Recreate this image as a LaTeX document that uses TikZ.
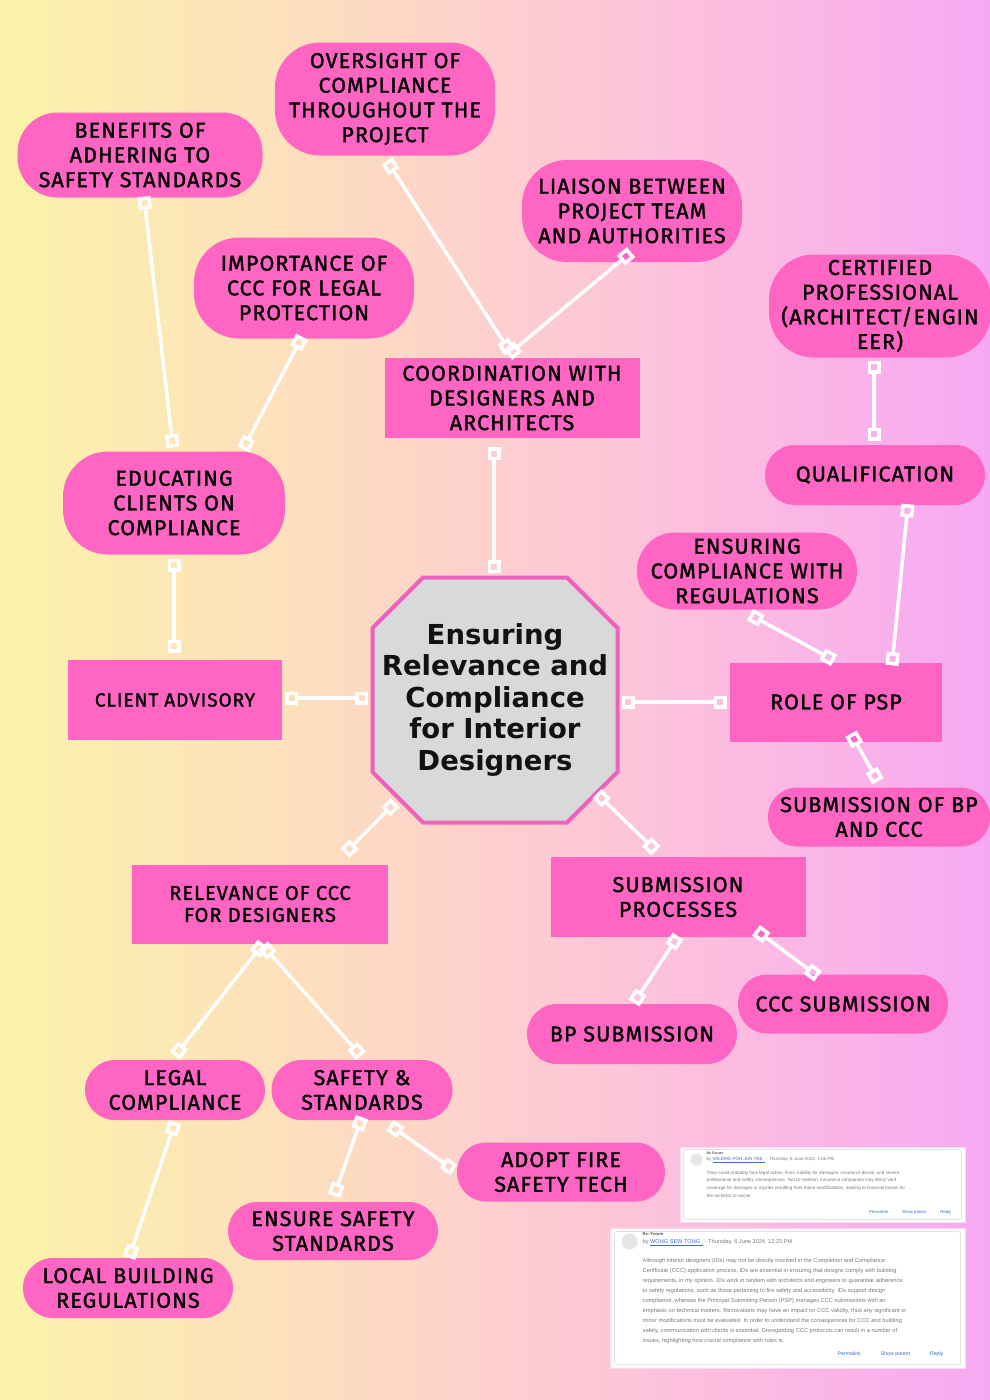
\documentclass[tikz,border=0pt]{standalone}
\usepackage{fontspec}
\setmainfont{Liberation Sans}
\newfontfamily\hand[FakeBold=1.5, LetterSpace=5]{Fira Sans}
\newfontfamily\hubfont{DejaVu Sans}
\usetikzlibrary{arrows.meta}
\definecolor{pinkbox}{HTML}{FF66C4}
\definecolor{hubgray}{HTML}{D9D9D9}
\definecolor{hubedge}{HTML}{EC62BC}
\definecolor{txtgray}{HTML}{7A7A7A}
\definecolor{linkblue}{HTML}{3C6CC6}
\definecolor{bgA}{HTML}{FBF3A9}
\definecolor{bgB}{HTML}{FDDCC0}
\definecolor{bgC}{HTML}{FDCCD2}
\definecolor{bgD}{HTML}{FCBCE0}
\definecolor{bgE}{HTML}{F6A9F3}
\pgfdeclarehorizontalshading{paper}{100bp}{color(0bp)=(bgA); color(25bp)=(bgA);
  color(42bp)=(bgB); color(52bp)=(bgC); color(62bp)=(bgD); color(75bp)=(bgE);
  color(100bp)=(bgE)}
\begin{document}
\begin{tikzpicture}[x=1pt, y=-1pt,
  box/.style={fill=pinkbox, text=black, align=center, inner sep=0pt,
    font=\hand\fontsize{21.5}{24.7}\selectfont},
  pill/.style={box, rounded corners=#1}, pill/.default=30pt,
  link/.style={draw=white, line width=3.5pt,
    {Square[open,length=13pt,width=13pt,line width=3.5pt]}-{Square[open,length=13pt,width=13pt,line width=3.5pt]}},
  shotbox/.style={fill=white, draw=pinkbox!25, line width=1pt, inner sep=0pt},
  shottxt/.style={anchor=north west, inner sep=0pt, text=txtgray, align=left}]
\useasboundingbox (0,0) rectangle (990,1400);
% background
\shade[shading=paper] (0,0) rectangle (990,1400);

% central octagon
\draw[fill=hubgray, draw=hubedge, line width=4pt, shift={(495,700)}]
  (-72,-122.5) -- (72,-122.5) -- (122.5,-72) -- (122.5,72) -- (72,122.5)
  -- (-72,122.5) -- (-122.5,72) -- (-122.5,-72) -- cycle;
\node[align=center, text=black!93, inner sep=0pt, minimum size=245pt,
  font=\hubfont\bfseries\fontsize{27.5}{31.5}\selectfont] (hub) at (495,700)
  {Ensuring\\Relevance and\\Compliance\\for Interior\\Designers};

% upper branches
\node[pill=45pt, minimum width=220pt, minimum height=113pt] (oversight) at (385,99)
  {OVERSIGHT OF\\COMPLIANCE\\THROUGHOUT THE\\PROJECT};
\node[pill=40pt, minimum width=245pt, minimum height=85pt] (benefits) at (140,155)
  {BENEFITS OF\\ADHERING TO\\SAFETY STANDARDS};
\node[pill=45pt, minimum width=220pt, minimum height=102pt] (liaison) at (632,211)
  {LIAISON BETWEEN\\PROJECT TEAM\\AND AUTHORITIES};
\node[pill=45pt, minimum width=220pt, minimum height=101pt] (importance) at (304,288)
  {IMPORTANCE OF\\CCC FOR LEGAL\\PROTECTION};
\node[pill=45pt, minimum width=222pt, minimum height=103pt] (certified) at (880,306)
  {CERTIFIED\\PROFESSIONAL\\(ARCHITECT/ENGIN\\EER)};
\node[box, minimum width=255pt, minimum height=80pt] (coord) at (512,398)
  {COORDINATION WITH\\DESIGNERS AND\\ARCHITECTS};
\node[pill, minimum width=220pt, minimum height=60pt] (qual) at (875,475) {QUALIFICATION};
\node[pill=45pt, minimum width=222pt, minimum height=103pt] (educating) at (174,503)
  {EDUCATING\\CLIENTS ON\\COMPLIANCE};
\node[pill=38pt, minimum width=220pt, minimum height=77pt] (ensuring) at (747,571)
  {ENSURING\\COMPLIANCE WITH\\REGULATIONS};

% middle row
\node[box, minimum width=214pt, minimum height=80pt, font=\hand\fontsize{19}{22}\selectfont]
  (client) at (175,700) {CLIENT ADVISORY};
\node[box, minimum width=212pt, minimum height=79pt] (psp) at (836,702) {ROLE OF PSP};
\node[pill=29pt, minimum width=222pt, minimum height=59pt] (subbp) at (879,817)
  {SUBMISSION OF BP\\AND CCC};

% lower branches
\node[box, minimum width=256pt, minimum height=79pt, font=\hand\fontsize{20}{22}\selectfont]
  (relevance) at (260,904) {RELEVANCE OF CCC\\FOR DESIGNERS};
\node[box, minimum width=255pt, minimum height=80pt] (subproc) at (678,897)
  {SUBMISSION\\PROCESSES};
\node[pill=29pt, minimum width=210pt, minimum height=59pt] (cccsub) at (843,1004) {CCC SUBMISSION};
\node[pill, minimum width=210pt, minimum height=60pt] (bpsub) at (632,1034) {BP SUBMISSION};
\node[pill, minimum width=180pt, minimum height=60pt] (legal) at (175,1090) {LEGAL\\COMPLIANCE};
\node[pill, minimum width=181pt, minimum height=60pt] (safety) at (362,1090) {SAFETY \&\\STANDARDS};
\node[pill=29pt, minimum width=208pt, minimum height=59pt] (adopt) at (561,1172) {ADOPT FIRE\\SAFETY TECH};
\node[pill=29pt, minimum width=210pt, minimum height=58pt] (ensure) at (333,1231) {ENSURE SAFETY\\STANDARDS};
\node[pill, minimum width=210pt, minimum height=60pt] (local) at (128,1288) {LOCAL BUILDING\\REGULATIONS};

% connectors
\draw[link] ([shift={(2,5)}]oversight.south) -- ([shift={(-2,-6)}]coord.north);
\draw[link] ([shift={(-1,-10)}]liaison.south) -- ([shift={(-4,-3)}]coord.north);
\draw[link] ([shift={(4,-1)}]benefits.south) -- ([shift={(-1,-4)}]educating.north);
\draw[link] ([shift={(-2,-2)}]importance.south) -- ([shift={(-42,-2)}]educating.north east);
\draw[link] ([shift={(-18,9)}]coord.south) -- ([shift={(-1,-4)}]hub.north);
\draw[link] ([shift={(-6,3)}]certified.south) -- ([shift={(-1,-4)}]qual.north);
\draw[link] ([shift={(33,-1)}]qual.south) -- ([shift={(56,3)}]psp.north);
\draw[link] ([shift={(3,5)}]ensuring.south) -- ([shift={(-2,-2)}]psp.north);
\draw[link] ([shift={(0,4)}]educating.south) -- ([shift={(-1,-7)}]client.north);
\draw[link] ([shift={(3,-2)}]client.east) -- ([shift={(-4,-2)}]hub.west);
\draw[link] ([shift={(4,2)}]hub.east) -- ([shift={(-3,0)}]psp.west);
\draw[link] ([shift={(15,-8)}]psp.south) -- ([shift={(-1,-6)}]subbp.north);
\draw[link] ([shift={(-100,-20)}]hub.south) -- ([shift={(85,-11)}]relevance.north);
\draw[link] ([shift={(102,-29)}]hub.south) -- ([shift={(-22,-6)}]subproc.north);
\draw[link] ([shift={(3,0)}]relevance.south) -- ([shift={(0,-4)}]legal.north);
\draw[link] ([shift={(3,2)}]relevance.south) -- ([shift={(-1,-4)}]safety.north);
\draw[link] ([shift={(0,-1)}]subproc.south) -- ([shift={(2,-1)}]bpsub.north);
\draw[link] ([shift={(78,-7)}]subproc.south) -- ([shift={(-25,2)}]cccsub.north);
\draw[link] ([shift={(0,2)}]legal.south) -- ([shift={(1,0)}]local.north);
\draw[link] ([shift={(0,-3)}]safety.south) -- ([shift={(1,-6)}]ensure.north);
\draw[link] ([shift={(28,5)}]safety.south) -- ([shift={(-3,-2)}]adopt.west);

% forum screenshots
\node[shotbox, minimum width=285pt, minimum height=75pt] (shotA) at (822.5,1184.5) {};
\draw[black!12, line width=0.6pt, rounded corners=2pt]
  ([shift={(4,3)}]shotA.north west) rectangle ([shift={(-4,-3)}]shotA.south east);
\fill[black!10] ([shift={(17,13)}]shotA.north west) circle (6);
\node[shottxt, font=\bfseries\fontsize{3.5}{4}\selectfont, text=black!70] (shotAtitle)
  at ([shift={(27,5)}]shotA.north west) {Re Forum};
\node[shottxt, font=\fontsize{4.5}{5}\selectfont] (shotAby) at ([shift={(27,11)}]shotA.north west)
  {by \textcolor{linkblue}{\underline{VALERIE POH JUN YEE .}} - Thursday, 6 June 2024, 1:06 PM};
\node[shottxt, font=\fontsize{4.6}{7.8}\selectfont] (shotAtext) at ([shift={(27,24)}]shotA.north west)
  {They could probably face legal action, fines, liability for damages, insurance denial, and severe\\
   professional and safety consequences. Not to mention, insurance companies may deny/ void\\
   coverage for damages or injuries resulting from those modifications, leading to financial losses for\\
   the architect or owner.};
\node[shottxt, text=linkblue, anchor=east, font=\fontsize{4.3}{5}\selectfont] (shotAlinks)
  at ([shift={(-14,-10)}]shotA.south east) {Permalink\hspace{14pt}Show parent\hspace{14pt}Reply};

\node[shotbox, minimum width=355pt, minimum height=140pt] (shotB) at (787.5,1298) {};
\draw[black!12, line width=0.6pt, rounded corners=2pt]
  ([shift={(5,4)}]shotB.north west) rectangle ([shift={(-5,-4)}]shotB.south east);
\fill[black!10] ([shift={(20,14)}]shotB.north west) circle (8);
\node[shottxt, font=\bfseries\fontsize{4}{5}\selectfont, text=black!70] (shotBtitle)
  at ([shift={(33,5)}]shotB.north west) {Re: Forum};
\node[shottxt, font=\fontsize{5.6}{6}\selectfont] (shotBby) at ([shift={(33,12)}]shotB.north west)
  {by \textcolor{linkblue}{\underline{WONG SEW TONG .}} - Thursday, 6 June 2024, 12:23 PM};
\node[shottxt, font=\fontsize{5.7}{9.9}\selectfont] (shotBtext) at ([shift={(33,31)}]shotB.north west)
  {Although interior designers (IDs) may not be directly involved in the Completion and Compliance\\
   Certificate (CCC) application process, IDs are essential in ensuring that designs comply with building\\
   requirements, in my opinion. IDs work in tandem with architects and engineers to guarantee adherence\\
   to safety regulations, such as those pertaining to fire safety and accessibility. IDs support design\\
   compliance, whereas the Principal Submitting Person (PSP) manages CCC submissions with an\\
   emphasis on technical matters. Renovations may have an impact on CCC validity, thus any significant or\\
   minor modifications must be evaluated. In order to understand the consequences for CCC and building\\
   safety, communication with clients is essential. Disregarding CCC protocols can result in a number of\\
   issues, highlighting how crucial compliance with rules is.};
\node[shottxt, text=linkblue, anchor=east, font=\fontsize{5.2}{6}\selectfont] (shotBlinks)
  at ([shift={(-22,-14)}]shotB.south east) {Permalink\hspace{20pt}Show parent\hspace{20pt}Reply};
\end{tikzpicture}
\end{document}
